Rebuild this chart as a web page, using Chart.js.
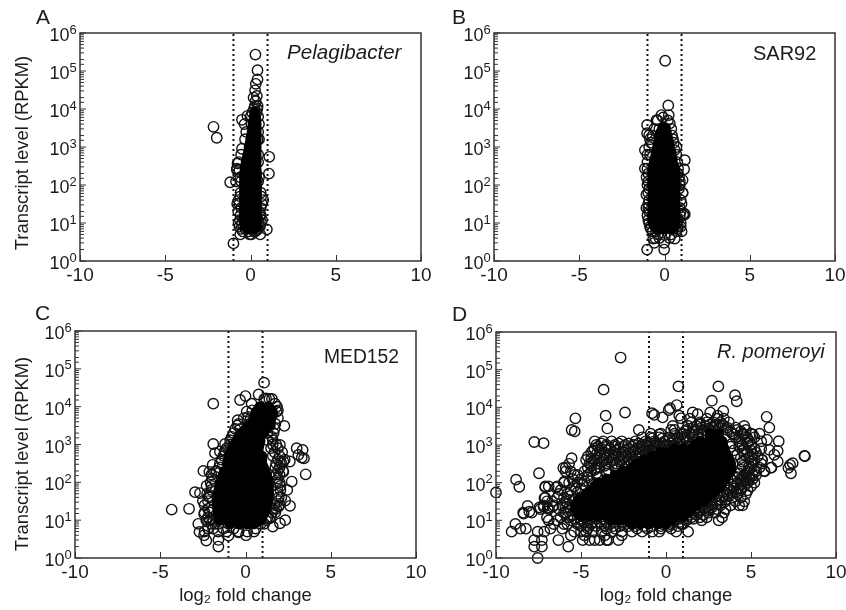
<!DOCTYPE html>
<html><head><meta charset="utf-8">
<style>html,body{margin:0;padding:0;background:#fff;width:846px;height:610px;overflow:hidden}canvas{position:absolute}</style>
<script src="https://cdn.jsdelivr.net/npm/chart.js@4/dist/chart.umd.min.js"></script>
</head><body>
<canvas id="a" width="446" height="305" style="left:0;top:0"></canvas>
<canvas id="b" width="423" height="305" style="left:423px;top:0"></canvas>
<canvas id="c" width="446" height="305" style="left:0;top:305px"></canvas>
<canvas id="d" width="423" height="305" style="left:423px;top:305px"></canvas>
<script>
const xTicks=[-10,-5,0,5,10];
const cutoffs=[-1,1];
const pelagibacterOutliers=[[.29,270000],[.41,105000],[.41,60000],[.31,46000],[.27,31000],[.18,20000],[.37,22000],[-2.17,3400],[-1.98,1750],[1.1,550],[1.08,200],[-1.19,118],[-.5,5200],[-.18,6600],[-1,2.9],[.96,6.8],[-.76,370],[-.8,270]];
const pelagibacterFringe=[[5,[-.6,-.05,.05,.57]],[6,[-.45,-.1,.2,.3]],[7,[-.55,-.3,.45]],[8,[-.65,-.25,.25,.55]],[10,[-.7,-.5,.5,.62]],[12,[-.62,.45,.68]],[16,[-.58,.55,.6]],[20,[-.72,.52]],[25,[-.55,.6]],[32,[-.78,-.65,.66]],[40,[-.7,.75]],[50,[-.6,.62]],[63,[-.58,.6]],[125,[-.85,-.55,.45]],[160,[-.6,.5]],[250,[-.65,-.8]],[400,[-.7,.45]],[630,[-.55,.45]],[900,[-.5]],[1600,[-.32,.42,.5]],[2500,[-.25,.45]],[4000,[-.35,.05,.5]],[6300,[0,.25,.45]],[8000,[.1,.35]],[10000,[.2,.4]],[12000,[.25,.42]],[16000,[.3]]];
const pelagibacterCore=[[7,[-.15,.2]],[8,[-.3,.05,.35]],[10,[-.35,0,.35]],[13,[-.35,0,.35]],[16,[-.35,0,.35]],[20,[-.35,0,.35]],[25,[-.35,0,.35]],[32,[-.35,0,.35]],[40,[-.35,0,.35]],[50,[-.35,0,.35]],[63,[-.35,0,.35]],[80,[-.35,0,.35]],[100,[-.35,0,.35]],[125,[-.35,0,.35]],[160,[-.35,0,.35]],[200,[-.35,0,.35]],[250,[-.32,0,.33]],[320,[-.3,.02,.33]],[400,[-.25,.05,.33]],[500,[-.2,.08,.33]],[630,[-.15,.1,.33]],[800,[-.1,.12,.33]],[1000,[-.08,.15,.33]],[1250,[-.02,.18,.33]],[1600,[.02,.2,.33]],[2000,[.05,.2,.33]],[2500,[.1,.33]],[3200,[.12,.33]],[4000,[.15,.33]],[5000,[.2,.3]],[6300,[.22,.3]],[8000,[.25]]];

const sar92Outliers=[[.04,186000],[.22,12400],[.25,6900],[-.18,6900],[-.08,6000],[-1.02,3800],[-1.02,2300],[-.9,2050],[-.47,5100],[.31,4200],[-1.15,830],[1.19,450],[1.15,260],[1.06,135],[1.06,62],[1.19,17],[1.13,18],[1,6],[-1.06,56],[-1.06,25],[-1.15,270],[-1.02,2],[-.02,2],[-.6,3],[-.02,3],[-.66,3.9],[.6,3.9],[0,4.8]];
const sar92Fringe=[[4,[-.55,-.3,.3]],[5,[-.4,.4]],[6,[-.7,-.5,.7]],[7,[-.8,.55,.75]],[8,[-.85,.8,.95]],[10,[-.9,.7,.95]],[12,[-.95,.8]],[16,[-1,.9,1.1]],[20,[-.9,.95]],[25,[-.95,.9]],[32,[-.95,1]],[40,[-.9,.95]],[63,[-.95,1.06]],[80,[-.9,.85]],[100,[-1,.9]],[125,[-.95,.9]],[160,[-1.05,.85]],[200,[-.95,.8]],[270,[-1,.8]],[400,[-1,.75]],[630,[-1,-.85,.7]],[830,[.6]],[1000,[-.9,.7]],[1300,[-.8,.55]],[1600,[-.85,.5]],[2000,[-.7,.45]],[3000,[-.6,-.3,.4]],[5000,[-.4,.2]]];
const sar92Core=[[7,[-.4,0,.4]],[8,[-.55,-.15,.25,.55]],[10,[-.68,-.3,.05,.35,.62]],[13,[-.68,-.3,.05,.35,.62]],[16,[-.68,-.3,.05,.35,.62]],[20,[-.68,-.3,.05,.35,.62]],[25,[-.68,-.3,.05,.35,.62]],[32,[-.68,-.3,.05,.35,.62]],[40,[-.68,-.3,.05,.35,.62]],[50,[-.68,-.3,.05,.35,.62]],[63,[-.68,-.3,.05,.35,.62]],[80,[-.68,-.3,.05,.35,.62]],[100,[-.68,-.3,.05,.35,.62]],[125,[-.68,-.3,.05,.35,.62]],[160,[-.68,-.3,.05,.35,.62]],[200,[-.68,-.3,.05,.35,.62]],[250,[-.68,-.3,.05,.35,.62]],[320,[-.65,-.3,.05,.35,.55]],[400,[-.6,-.25,.1,.45]],[500,[-.55,-.2,.1,.45]],[630,[-.5,-.15,.15,.4]],[800,[-.45,-.1,.15,.35]],[1000,[-.4,-.05,.3]],[1250,[-.35,0,.25]],[1600,[-.3,0,.2]],[2000,[-.25,.15]],[2500,[-.2,.1]],[3200,[-.1,.05]]];

const med152Outliers=[[1.09,43000],[-1.89,12000],[0,19000],[.77,21000],[-.32,15000],[.36,12000],[1.2,16500],[1.73,12000],[1.83,7400],[2.28,3100],[.07,7400],[.17,5400],[-.46,4400],[-.48,3200],[-1.89,1030],[-1.2,1030],[-1.79,590],[-1.5,650],[-1.2,690],[-1.93,290],[-2.47,200],[-2.12,190],[-1.79,190],[-2.96,55],[-2.67,52],[-2.28,81],[-2.18,42],[-4.33,19],[-3.31,20],[-2.77,8],[-2.7,4.9],[-2.43,4],[-2.3,2.9],[-1.59,2],[-1.59,3],[.03,4],[-2.43,14.5],[3.53,163],[3,800],[3.35,720],[3.1,530],[3.3,450],[3.43,430],[2.71,105],[2.6,355],[2.22,355],[2.22,190],[2.45,63],[2.33,33],[2.61,24],[1.93,23],[2.33,10],[2.02,8.3],[1.6,6.8],[1.4,11],[.6,6],[-.42,4.8],[-1,3.9],[2.02,970]];
const med152Fringe=[[5,[-2.4,-1.6,-1.1,-.4,.1,.5]],[6,[-2.2,-1.9,-1.3,-.7]],[8,[-2,-1.8,-1.6,-1,-.3,.9,1.1]],[10,[-2.3,-2.1,-1.9,.9,1.2]],[12,[-2.2,-1.7,1.3,1.5]],[16,[-2.4,-2.1,1.55,1.75]],[20,[-2.2,1.6,1.8]],[25,[-2.4,1.7,2]],[32,[-2.5,-2.2,1.9]],[40,[-2.1,1.95,2.1]],[50,[-2.25,1.9]],[63,[-2,2.05]],[80,[-2,2.05]],[100,[-2.05,1.85,2]],[125,[-1.95,1.9]],[160,[-2,1.8,2]],[200,[-1.7,1.9,2.2]],[250,[-1.55,1.75,2]],[320,[-1.5,1.8,2.1]],[400,[-1.4,1.9,2.3]],[500,[-1.3,1.6,2]],[630,[-1.2,1.7,2.15]],[800,[-1.1,1.5,1.9]],[1000,[-.9,1.6,1.8]],[1300,[-.9,1.3,1.6]],[1600,[-.8,1.55]],[2000,[-.7,1.3,1.65]],[2600,[-.6,-.3,1.7]],[3500,[-.4,.25,1.75]],[5000,[-.1,.3,1.9]],[8000,[.4,1.9]],[10000,[1.85]],[16000,[1.1,1.4,1.55]]];
const med152Core=[[8,[-.9,-.4,.1,.5]],[10,[-1.5,-1.1,-.6,-.1,.4,.85]],[13,[-1.55,-1.25,-.75,-.25,.25,.75,1]],[16,[-1.6,-1.3,-.8,-.3,.2,.7,1.1]],[20,[-1.6,-1.35,-.85,-.35,.15,.65,1.15]],[25,[-1.65,-1.4,-.9,-.4,.1,.6,1.1,1.25]],[32,[-1.65,-1.4,-.9,-.4,.1,.6,1.1,1.3]],[40,[-1.65,-1.35,-.85,-.35,.15,.65,1.15,1.3]],[50,[-1.6,-1.25,-.75,-.25,.25,.75,1.25,1.35]],[63,[-1.55,-1.15,-.65,-.15,.35,.85,1.35]],[80,[-1.5,-1.1,-.6,-.1,.4,.9,1.35]],[100,[-1.45,-1.05,-.55,-.05,.45,.95,1.35]],[125,[-1.4,-.95,-.45,.05,.55,1.05,1.3]],[160,[-1.3,-.85,-.35,.15,.65,1.2]],[200,[-1.2,-.7,-.2,.3,.8,1.15]],[250,[-1.05,-.55,-.05,.45,1.05]],[320,[-1.05,-.55,-.05,.45,.95]],[400,[-1,-.55,-.05,.45,.95]],[500,[-.95,-.45,.05,.55,.95]],[630,[-.85,-.35,.15,.75]],[800,[-.75,-.25,.25,.75]],[1000,[-.65,-.15,.35,.8]],[1250,[-.5,0,.5,.85]],[1600,[-.4,.1,.8]],[2000,[-.2,.25,.7,1.05]],[2500,[0,.4,1.15]],[3200,[.2,.7,1.1,1.45]],[4000,[.5,.9,1.45]],[5000,[.55,1,1.5]],[6300,[.6,1.1,1.6]],[8000,[.7,1.2,1.55]],[10000,[.85,1.35]]];

const pomeroyiOutliers=[[-2.67,210000],[-3.67,29500],[.73,36000],[3.08,36000],[4.06,21000],[4.16,14500],[2.7,15000],[.63,11500],[.24,9500],[.16,8500],[3.37,8000],[-.82,7000],[-.69,6300],[-.2,5400],[.78,6000],[.88,5100],[1.57,7300],[1.86,6600],[2.6,7300],[3.04,6000],[-2.41,7300],[-3.55,6000],[-5.33,5100],[-3.45,2750],[-5.55,2500],[-5.37,2300],[-7.75,1200],[-7.2,1120],[-7.47,178],[-8.82,120],[-8.63,78],[-10,55],[5.92,5600],[6.08,2900],[5.94,1380],[6.63,1260],[6.08,740],[6.57,700],[6.37,550],[6.57,365],[5.65,400],[8.14,515],[8.17,505],[7.45,330],[7.3,297],[7.2,247],[7.35,178],[6.18,252],[5.78,205],[-7.55,1],[-7.75,2],[-7.3,2],[-7.75,3],[-7.3,3],[-5.75,2],[-6.33,3],[-9.08,5],[-8.86,8],[-8.57,6],[-8.24,6],[-8.37,15],[-8.14,24],[-8.04,17],[-7.55,5],[-7.16,5],[-7.45,22],[-7.2,23],[-6.96,21],[-6.67,23],[-7.1,76],[-6.9,80],[-6.47,74],[-5.98,107],[-7.15,39],[-6.04,245],[-5.7,316],[-5.55,447]];
const pomeroyiFringe=[[3,[-4.9,-4.5,-4.2,-3.9,-3.5,-3.4,-2.8]],[4,[-5.6,-4.8,-3.6,-2.6]],[5,[-5.4,-5,-4.7,-4.3,-3.8,-3.2,-2.6,-2,-1.4,-.8,-.4,.6,1.3]],[6,[-6.8,-6.1,-4.6,-3.5,-3,-1.7,-1.1,-.3,.3]],[8,[-6.6,-6,-5.8,-5.2,-4.4,-3.8,-3.3,-2.6,-2,-.2,.2,.9,1]],[10,[-6.9,-6.4,-5.6,-5,-4.6,-.1,.5,1.2,2.1,3.1]],[12,[-7,-6.2,-5.8,.9,1.5,2,2.4,3.3]],[16,[-8.4,-7.9,-6,-5.9,1.3,1.9,2.5,2.9,3.4]],[20,[-7.4,-6.9,-6.3,2,2.5,3,3.5]],[25,[-7.2,-6.6,-6.1,2.7,3.2,3.8,4.3,4.5]],[32,[-7,-6.7,-5.9,3,3.5,4.1,4.6]],[40,[-7.1,-6.4,-6,3.3,3.9,4.4]],[50,[-6.3,-5.8,3.6,4.2,4.7]],[63,[-6.2,-5.6,3.7,4.4,4.8]],[80,[-7.1,-6.4,-5.4,4,4.6,5]],[100,[-6,-5.7,-5.2,4.2,4.8,5.2]],[125,[-5.5,-5,4.4,4.9,5.1]],[160,[-5.4,-5.2,-4.6,4.6,5.1,5.3]],[200,[-5.9,-5.6,-4.8,-4.4,4.8,5.3,5.8]],[250,[-5.9,-4.6,-4.1,-3.9,5,5.5,6.2]],[320,[-4.5,-4,-3.5,-2.9,5.1,5.6]],[400,[-4.7,-4.2,-3.7,-3.1,-2.6,-2.2,5.2,5.65]],[500,[-4.6,-3.9,-3.3,-2.8,-2.3,-1.8,-1.4,5,5.4]],[630,[-4.4,-3.6,-3.1,-2.5,-2,-1.5,-1,-.5,4.8,5.3]],[800,[-4.2,-3.8,-3.3,-2.7,-2.2,-1.7,-1.2,-.7,-.2,.3,.7,4.6,5.2,5.6]],[1000,[-4.1,-3.5,-3,-2.4,-1.9,-1.4,-.9,-.4,.1,.5,1,4.5,5]],[1250,[-4.2,-3.7,-3.2,-2.6,-1.8,-1.2,-.7,-.1,.4,.8,1.2,4.3,4.9,5.6]],[1600,[-1.4,-.9,-.4,.2,.7,1.1,1.6,4.1,4.7,5.2]],[2000,[-.9,-.3,.5,1,1.4,1.9,2.2,3.9,4.5,5,5.5]],[2500,[-1.6,.3,.5,1.2,1.7,2.2,2.6,3.6,4.2,4.7]],[3200,[.4,1.3,1.8,2.3,2.9,3.4,4.6]],[4000,[1.5,2,2.4,2.8,3.2,3.7]],[5000,[1.4,2.4,3,3.4]]];
const pomeroyiMid=[[3500,[2,2.6,3,3.3]],[2900,[1.6,2.1,2.7,3.1,3.6,4.1]],[2300,[1.1,1.6,2.4,3.8,4.4]],[1900,[-.4,.9,1.6,2.1,4,4.6,5.1]],[1500,[-.8,-.2,.4,1.2,1.9,4.3,4.8]],[1100,[-3.8,-2.8,-2.2,-1.6,-1.1,-.6,-.2,.3,.7,1.5,2,3.9,4.4,4.8]],[900,[-4,-3.5,-3,-2.5,-2,-1.5,-1,-.5,0,.4,.9,1.3,3.8,4.3]],[720,[-4.3,-3.9,-3.4,-2.9,-2.4,-1.8,-1.3,-.8,-.3,0,4,4.5,5]],[560,[-4.1,-3.6,-3,-2.6,-2.1,-1.6,-1.2,-.9,4.2,4.6,5.1]],[450,[-4.4,-3.5,-3,-2.5,-2,-1.6,-1.2,-.8,4.4,4.9]],[360,[-4.3,-3.8,-3.3,-2.7,-2.3,-1.9,-1.5,4.5,5]],[280,[-4.4,-3.6,-3,-2.6,-2.2,4.5,4.9]],[220,[-4.2,-3.4,-2.9,4.4,4.9,5.2]],[175,[-4.1,-3.5,4.3,4.7]],[140,[-4.6,-4,4.2,4.6,4.9]],[110,[-4.8,-4.4,4,4.4,4.7]],[90,[-4.9,3.8,4.2,4.4]],[70,[-5.3,-5,3.6,4,4.4]],[56,[-5.2,3.4,3.8,4.1]],[45,[-5.6,3,3.4,3.7]],[35,[-5.7,-5.4,2.7,3.1,3.5]],[28,[-5.8,2.3,2.7,3]],[22,[-5.9,-5.7,1.9,2.3,2.7]],[18,[-5.6,1.6,2,2.5]],[14,[-5.5,1.4,1.8,2.2]],[11,[-5.4,-5,-4.5,-4.1,-3.7,.8,1.2,1.6]],[9,[-5.2,-4.8,-4.3,-3.9,-3.5,-3,-2.6,.4,.8]],[7,[-5,-4.6,-4.1,-3.6,-3.1,-2.7,-2.2,-1.8,-1.3,-.8,-.3,.2,.7]]];
const pomeroyiCore=[[8,[-2,-1.5,-1,-.5,0]],[10,[-3.2,-2.7,-2.2,-1.7,-1.2,-.7,-.2,.3]],[13,[-5,-4.5,-4,-3.5,-3,-2.5,-2,-1.5,-1,-.5,0,.5,1]],[16,[-5.2,-4.7,-4.2,-3.7,-3.2,-2.7,-2.2,-1.7,-1.2,-.7,-.2,.3,.8,1.2]],[20,[-5.3,-4.8,-4.3,-3.8,-3.3,-2.8,-2.3,-1.8,-1.3,-.8,-.3,.2,.7,1.2,1.5]],[25,[-5.3,-4.8,-4.3,-3.8,-3.3,-2.8,-2.3,-1.8,-1.3,-.8,-.3,.2,.7,1.2,1.8]],[32,[-5.2,-4.7,-4.2,-3.7,-3.2,-2.7,-2.2,-1.7,-1.2,-.7,-.2,.3,.8,1.3,1.8,2.2]],[40,[-5,-4.5,-4,-3.5,-3,-2.5,-2,-1.5,-1,-.5,0,.5,1,1.5,2,2.4]],[50,[-4.7,-4.2,-3.7,-3.2,-2.7,-2.2,-1.7,-1.2,-.7,-.2,.3,.8,1.3,1.8,2.3,2.7]],[63,[-4.4,-3.9,-3.4,-2.9,-2.4,-1.9,-1.4,-.9,-.4,.1,.6,1.1,1.6,2.1,2.6,2.9]],[80,[-4.2,-3.7,-3.2,-2.7,-2.2,-1.7,-1.2,-.7,-.2,.3,.8,1.3,1.8,2.3,2.8,3.2]],[100,[-4,-3.5,-3,-2.5,-2,-1.5,-1,-.5,0,.5,1,1.5,2,2.5,3,3.3]],[125,[-3.5,-3,-2.5,-2,-1.5,-1,-.5,0,.5,1,1.5,2,2.5,3,3.5]],[160,[-3,-2.5,-2,-1.5,-1,-.5,0,.5,1,1.5,2,2.5,3,3.6]],[200,[-2.5,-2,-1.5,-1,-.5,0,.5,1,1.5,2,2.5,3,3.5,3.8]],[250,[-2,-1.5,-1,-.5,0,.5,1,1.5,2,2.5,3,3.4,3.8]],[320,[-1.7,-1.2,-.7,-.2,.3,.8,1.3,1.8,2.3,2.8,3.3,3.8]],[400,[-1.3,-.8,-.3,.2,.7,1.2,1.7,2.2,2.7,3.2,3.7]],[500,[-.8,-.3,.2,.7,1.2,1.7,2.2,2.7,3.2,3.6]],[630,[-.3,.2,.7,1.2,1.7,2.2,2.7,3.1,3.5]],[800,[.5,1,1.5,2,2.5,3,3.4]],[1000,[1.7,2.2,2.7,3.3]],[1250,[2,2.5,3,3.3]],[1600,[2.8]],[2000,[2.6,3.1]]];

const dots=r=>r.map(([x,y])=>({x,y}));
const rows=r=>r.flatMap(([y,xs])=>xs.map(x=>({x,y})));
const TXT='#1c1c1c',FONT='"Liberation Sans",Arial,sans-serif';
const frame={id:'frame',afterDatasetsDraw(ch,_,o){
  const {ctx,chartArea:a,scales:{x,y}}=ch;ctx.save();
  ctx.strokeStyle='#333';ctx.lineWidth=1.5;ctx.strokeRect(a.left,a.top,a.right-a.left,a.bottom-a.top);
  ctx.lineWidth=1;ctx.beginPath();
  x.ticks.forEach(t=>{const p=Math.round(x.getPixelForValue(t.value))+.5;ctx.moveTo(p,a.bottom);ctx.lineTo(p,a.bottom-6);});
  y.ticks.forEach(t=>{const e=Math.log10(t.value),maj=Math.abs(e-Math.round(e))<1e-9,p=y.getPixelForValue(t.value);ctx.moveTo(a.left,p);ctx.lineTo(a.left+(maj?6:4),p);});
  ctx.stroke();
  ctx.fillStyle=TXT;ctx.textBaseline='alphabetic';
  y.ticks.forEach(t=>{const e=Math.log10(t.value),r=Math.round(e);if(Math.abs(e-r)>1e-9)return;const p=y.getPixelForValue(t.value);
    ctx.textAlign='right';ctx.font=`18px ${FONT}`;ctx.fillText('10',a.left-10.5,p+8);
    ctx.textAlign='left';ctx.font=`13px ${FONT}`;ctx.fillText(String(r),a.left-10.5,p+.5);});
  ctx.textAlign='left';
  ctx.font=`21px ${FONT}`;ctx.fillText(o.letter,o.lx,o.ly);
  ctx.font=`${o.italic?'italic ':''}${o.nameSize}px ${FONT}`;ctx.fillText(o.name,o.nx,o.ny);
  if(o.yTitle){ctx.font=`18.4px ${FONT}`;ctx.save();ctx.translate(o.yx,o.yy);ctx.rotate(-Math.PI/2);ctx.textAlign='center';ctx.fillText(o.yTitle,0,0);ctx.restore();}
  ctx.restore();
}};
function panel(id,box,open,fringe,core,opt){
  const line=v=>({type:'scatter',data:[{x:v,y:1},{x:v,y:1e6}],showLine:true,pointRadius:0,borderColor:'#111',borderWidth:2,borderDash:[2,3],clip:false,order:3});
  new Chart(document.getElementById(id),{type:'scatter',plugins:[frame],data:{datasets:[
    line(cutoffs[0]),line(cutoffs[1]),
    {data:dots(open).concat(rows(fringe)),pointRadius:5.2,pointBorderWidth:1.4,pointBorderColor:'#111',pointBackgroundColor:'rgba(0,0,0,0)',clip:false,order:2},
    {data:rows(core),pointRadius:5.5,pointBorderWidth:0,pointBackgroundColor:'#000',clip:false,order:1}
  ]},options:{responsive:false,animation:false,
    layout:{padding:{left:0,top:box.top,right:box.w-box.right,bottom:0}},
    plugins:{legend:{display:false},tooltip:{enabled:false},frame:opt},
    scales:{
      x:{type:'linear',min:xTicks[0],max:xTicks[4],grid:{display:false,drawTicks:false},border:{display:false},
        afterBuildTicks:s=>{s.ticks=xTicks.map(value=>({value}));},
        ticks:{color:TXT,padding:3,font:{family:FONT,size:19},maxRotation:0,autoSkip:false,callback:v=>String(v)},
        title:{display:!!opt.xTitle,text:opt.xTitle||'',color:TXT,font:{family:FONT,size:18.5},padding:{top:0,bottom:3}},
        afterFit(s){s.height=305-box.bottom;s.paddingLeft=0;s.paddingRight=0;}},
      y:{type:'logarithmic',min:1,max:1e6,grid:{display:false,drawTicks:false},border:{display:false},
        ticks:{display:false,autoSkip:false,major:{enabled:true}},
        afterFit(s){s.width=box.left;s.paddingTop=0;s.paddingBottom=0;}}
    }}});
}
panel('a',{w:446,left:80,right:421,top:33,bottom:261},pelagibacterOutliers,pelagibacterFringe,pelagibacterCore,
  {letter:'A',lx:36,ly:24,name:'Pelagibacter',italic:true,nameSize:20.6,nx:287,ny:59,yTitle:'Transcript level (RPKM)',yx:28,yy:153});
panel('b',{w:423,left:71,right:412,top:33,bottom:261},sar92Outliers,sar92Fringe,sar92Core,
  {letter:'B',lx:29,ly:23.5,name:'SAR92',nameSize:20,nx:330,ny:60});
panel('c',{w:446,left:75,right:416,top:26,bottom:253},med152Outliers,med152Fringe,med152Core,
  {letter:'C',lx:35,ly:15,name:'MED152',nameSize:19.3,nx:324,ny:58,yTitle:'Transcript level (RPKM)',yx:28,yy:149,xTitle:'log₂ fold change'});
panel('d',{w:423,left:73,right:413,top:27,bottom:253},pomeroyiOutliers,pomeroyiFringe.concat(pomeroyiMid),pomeroyiCore,
  {letter:'D',lx:29,ly:15.5,name:'R. pomeroyi',italic:true,nameSize:20,nx:294,ny:53,xTitle:'log₂ fold change'});
</script></body></html>
